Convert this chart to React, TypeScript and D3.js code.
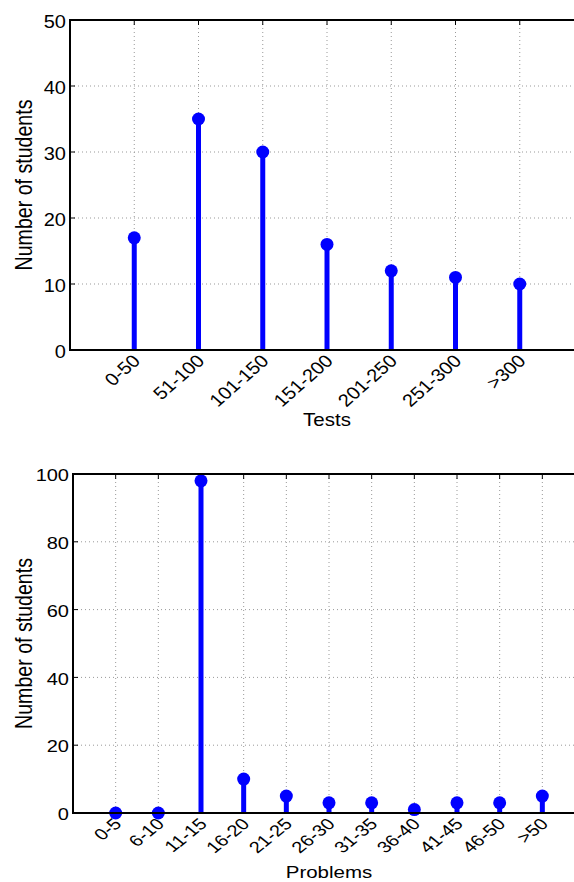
import * as d3 from "d3";

const testCats = ["0-50", "51-100", "101-150", "151-200", "201-250", "251-300", ">300"];
const testValues = [17, 35, 30, 16, 12, 11, 10];
const testTicks = [0, 10, 20, 30, 40, 50];

const probCats = ["0-5", "6-10", "11-15", "16-20", "21-25", "26-30", "31-35", "36-40", "41-45", "46-50", ">50"];
const probValues = [0, 0, 98, 10, 5, 3, 3, 1, 3, 3, 5];
const probTicks = [0, 20, 40, 60, 80, 100];

const FONT = "Liberation Sans, Arial, sans-serif";
const BLUE = "#0000ff";

const StemPlot = ({
  left,
  right,
  top,
  bottom,
  cats,
  values,
  yTicks,
  yMax,
  xLabel,
  xLabelOffset,
  squash,
}: {
  left: number;
  right: number;
  top: number;
  bottom: number;
  cats: string[];
  values: number[];
  yTicks: number[];
  yMax: number;
  xLabel: string;
  xLabelOffset: number;
  squash: number;
}) => {
  const x = d3.scaleLinear().domain([0, cats.length + 1]).range([left, right]);
  const y = d3.scaleLinear().domain([0, yMax]).range([bottom, top]);
  const TICK = 5;

  return (
    <g fontFamily={FONT}>
      {/* grid */}
      {cats.map((c, i) => (
        <line
          key={"gx" + c}
          x1={x(i + 1)}
          x2={x(i + 1)}
          y1={top}
          y2={bottom}
          stroke="#999"
          strokeWidth={1}
          strokeDasharray="1,3"
        />
      ))}
      {yTicks.slice(1, -1).map((t) => (
        <line
          key={"gy" + t}
          x1={left}
          x2={right}
          y1={y(t)}
          y2={y(t)}
          stroke="#999"
          strokeWidth={1}
          strokeDasharray="1,3"
        />
      ))}

      {/* ticks */}
      {cats.map((c, i) => (
        <g key={"tx" + c}>
          <line x1={x(i + 1)} x2={x(i + 1)} y1={bottom} y2={bottom - TICK} stroke="#000" />
          <line x1={x(i + 1)} x2={x(i + 1)} y1={top} y2={top + TICK} stroke="#000" />
          <text
            transform={`translate(${x(i + 1) + 7},${bottom + 12}) scale(1,${squash}) rotate(-45)`}
            textAnchor="end"
            fontSize={20}
          >
            {c}
          </text>
        </g>
      ))}
      {yTicks.map((t) => (
        <g key={"ty" + t}>
          <line x1={left} x2={left + TICK} y1={y(t)} y2={y(t)} stroke="#000" />
          <line x1={right} x2={right - TICK} y1={y(t)} y2={y(t)} stroke="#000" />
          <text
            transform={`translate(${left - 4},${y(t) + 1.5}) scale(1,${squash})`}
            dy="0.36em"
            textAnchor="end"
            fontSize={20}
          >
            {t}
          </text>
        </g>
      ))}

      {/* stems */}
      {values.map((v, i) => (
        <g key={"s" + i}>
          <line x1={x(i + 1)} x2={x(i + 1)} y1={y(0)} y2={y(v)} stroke={BLUE} strokeWidth={5} />
          <circle cx={x(i + 1)} cy={y(v)} r={6.5} fill={BLUE} />
        </g>
      ))}

      {/* box */}
      <rect
        x={left}
        y={top}
        width={right - left}
        height={bottom - top}
        fill="none"
        stroke="#000"
        strokeWidth={2}
      />

      <text
        transform={`translate(${(left + right) / 2},${bottom + xLabelOffset}) scale(1,${squash})`}
        textAnchor="middle"
        fontSize={20.5}
      >
        {xLabel}
      </text>
      <text
        transform={`translate(32,${(top + bottom) / 2}) scale(1,0.834) rotate(-90)`}
        textAnchor="middle"
        fontSize={23.5}
      >
        Number of students
      </text>
    </g>
  );
};

export default function App() {
  return (
    <svg
      width={574}
      height={882}
      style={{ position: "absolute", left: 0, top: 0, background: "#fff" }}
    >
      <rect width={574} height={882} fill="#fff" />
      <StemPlot
        left={70}
        right={584}
        top={20}
        bottom={350}
        cats={testCats}
        values={testValues}
        yTicks={testTicks}
        yMax={50}
        xLabel="Tests"
        xLabelOffset={76}
        squash={0.88}
      />
      <StemPlot
        left={73}
        right={585}
        top={474}
        bottom={813}
        cats={probCats}
        values={probValues}
        yTicks={probTicks}
        yMax={100}
        xLabel="Problems"
        xLabelOffset={65}
        squash={0.8}
      />
    </svg>
  );
}
